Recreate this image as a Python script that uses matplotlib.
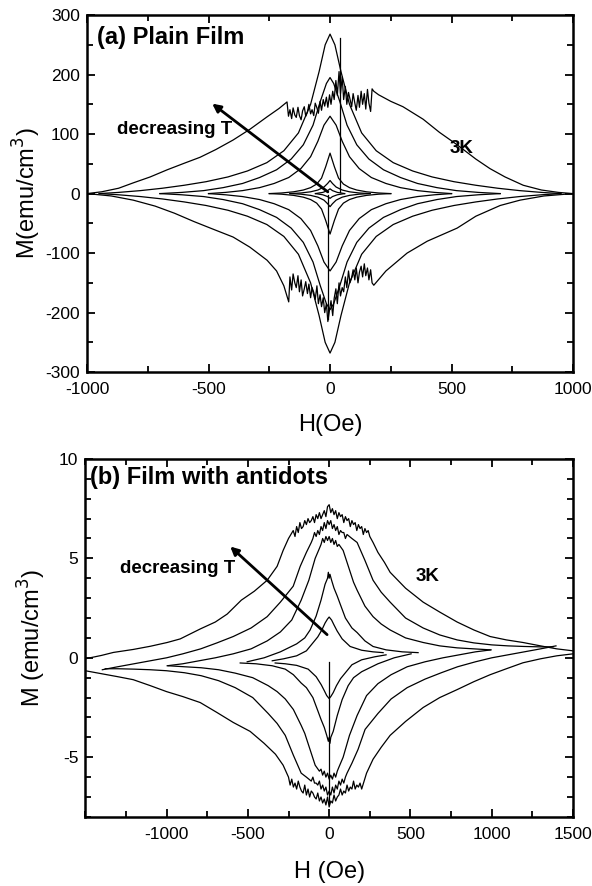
import numpy as np
import matplotlib
matplotlib.use('Agg')
import matplotlib.pyplot as plt
from matplotlib.ticker import MultipleLocator

plt.rcParams['font.family'] = ['Liberation Sans', 'DejaVu Sans']
plt.rcParams['axes.unicode_minus'] = False

# ---------------- (a) plain film, M in emu/cm^3 ----------------
# 3K loop, sweep down (upper branch), with flux-jump noise near zero field
a_3k_up_H = [-1000, -940, -870, -810, -740, -670, -600, -535, -470, -399, -330, -259, -210, -177,
             -171, -165, -158, -152, -145, -139, -132, -126, -119, -113, -106, -100, -93, -87, -80, -74,
             -67, -61, -54, -48, -41, -35, -28, -22, -15, -9, -2, 4, 11, 17, 24, 30, 37, 43, 50, 56,
             63, 69, 76, 82, 89, 95, 102, 108, 115, 121, 128, 134, 141, 147, 154, 160, 167, 173,
             180, 200, 250, 300, 383, 450, 523, 600, 658, 720, 795, 870, 940, 1000]
a_3k_up_M = [0, 3, 9, 18, 28, 40, 51, 61, 74, 90, 108, 129, 143, 154,
             130, 141, 126, 144, 132, 128, 145, 131, 124, 139, 146, 130, 137, 150, 134, 141,
             131, 152, 144, 135, 155, 140, 158, 147, 162, 145, 166, 150, 172, 158, 190, 165, 205, 168, 196, 158,
             180, 150, 170, 159, 146, 168, 152, 140, 165, 145, 172, 150, 168, 142, 175, 152, 138, 176,
             172, 166, 155, 146, 125, 103, 82, 58, 42, 28, 14, 6, 2, 0]
# 3K loop, sweep up (lower branch)
a_3k_lo_H = [-1000, -900, -810, -720, -640, -560, -480, -399, -330, -259, -220, -190, -170,
             -165, -158, -152, -145, -139, -132, -126, -119, -113, -106, -100, -93, -87, -80, -74,
             -67, -61, -54, -48, -41, -35, -28, -22, -15, -9, -2, 4, 11, 17, 24, 30, 37, 43, 50, 56,
             63, 69, 76, 82, 89, 95, 102, 108, 115, 121, 128, 134, 141, 147, 154, 160, 167, 173,
             180, 230, 317, 400, 523, 600, 700, 782, 880, 1000]
a_3k_lo_M = [0, -4, -11, -21, -33, -47, -60, -73, -90, -112, -130, -155, -182,
             -140, -162, -135, -150, -158, -138, -165, -145, -172, -160, -148, -168, -152, -175, -158,
             -166, -178, -155, -185, -170, -190, -175, -200, -185, -215, -195, -180, -205, -176, -160, -185, -150, -172, -158, -165,
             -140, -158, -130, -150, -141, -128, -145, -125, -150, -132, -122, -140, -118, -138, -125, -145, -128, -150,
             -154, -130, -100, -80, -58, -38, -20, -11, -4, 0]

# higher-temperature loops (sweep-down branch); the sweep-up branch is its point reflection
a_loop2_H = [-950, -870, -780, -690, -600, -510, -420, -340, -260, -190, -130, -80, -45, -20, 0,
             20, 45, 80, 130, 190, 260, 340, 420, 510, 600, 690, 780, 870, 950]
a_loop2_M = [0, 2, 5, 9, 14, 20, 28, 38, 52, 72, 102, 150, 205, 250, 268,
             250, 205, 150, 102, 72, 52, 38, 28, 20, 14, 9, 5, 2, 0]
a_loop3_H = [-700, -610, -520, -440, -360, -290, -220, -160, -110, -70, -40, -15, 0,
             15, 40, 70, 110, 160, 220, 290, 360, 440, 520, 610, 700]
a_loop3_M = [0, 2, 5, 10, 17, 27, 40, 58, 82, 115, 155, 185, 195,
             185, 155, 115, 82, 58, 40, 27, 17, 10, 5, 2, 0]
a_loop4_H = [-500, -430, -360, -290, -230, -170, -120, -80, -50, -25, 0,
             25, 50, 80, 120, 170, 230, 290, 360, 430, 500]
a_loop4_M = [0, 2, 5, 10, 17, 27, 42, 62, 88, 115, 130,
             115, 88, 62, 42, 27, 17, 10, 5, 2, 0]
a_loop5_H = [-250, -200, -150, -110, -80, -55, -35, -18, 0, 18, 35, 55, 80, 110, 150, 200, 250]
a_loop5_M = [0, 1, 3, 6, 10, 16, 26, 45, 68, 45, 26, 16, 10, 6, 3, 1, 0]
a_loop6_H = [-165, -120, -80, -50, -25, -10, 0, 10, 25, 50, 80, 120, 165]
a_loop6_M = [0, 1, 3, 6, 11, 17, 22, 17, 11, 6, 3, 1, 0]
a_loop7_H = [-60, -30, -10, 0, 10, 30, 60]
a_loop7_M = [0, 2, 5, 8, 5, 2, 0]
# flux jumps
a_jump_up_H = [40, 40]
a_jump_up_M = [3, 262]
a_jump_lo_H = [-10, -10]
a_jump_lo_M = [-3, -210]

# ---------------- (b) film with antidots ----------------
b_3k_up_H = [-1500, -1400, -1327, -1205, -1100, -996, -916, -793, -700, -627, -540, -460, -381, -320, -283, -250, -221,
             -210, -200, -190, -180, -170, -160, -150, -140, -130, -120, -110, -100, -90, -80, -70, -60,
             -50, -40, -30, -20, -10, 0, 10, 20, 30, 40, 50, 60, 70, 80, 90, 100, 110, 120, 130, 140,
             150, 160, 170, 180, 190, 200, 210, 220, 230, 240, 250,
             270, 300, 340, 375, 470, 578, 680, 787, 890, 990, 1090, 1192, 1300, 1400, 1500]
b_3k_up_M = [-0.05, 0.12, 0.27, 0.42, 0.58, 0.77, 0.95, 1.45, 1.8, 2.2, 2.9, 3.35, 3.9, 4.6, 5.4, 6.0, 6.4,
             6.1, 6.6, 6.3, 6.8, 6.5, 6.6, 6.9, 6.7, 7.0, 6.8, 6.9, 7.1, 6.8, 7.2, 7.0, 7.3,
             7.0, 7.2, 7.4, 7.1, 7.6, 7.7, 7.3, 7.5, 7.2, 7.4, 7.0, 7.3, 7.1, 7.2, 6.8, 7.1, 6.9, 7.0, 6.6, 6.9,
             6.7, 6.8, 6.4, 6.7, 6.5, 6.6, 6.2, 6.5, 6.3, 6.4, 6.1,
             5.8, 5.3, 4.8, 4.3, 3.5, 2.8, 2.3, 1.8, 1.4, 1.07, 0.9, 0.77, 0.6, 0.45, 0.35]
b_3k_lo_H = [-1500, -1400, -1300, -1205, -1100, -1000, -900, -793, -690, -590, -486, -400, -330, -283, -250,
             -240, -230, -220, -210, -200, -190, -180, -170, -160, -150, -140, -130, -120, -110, -100, -90,
             -80, -70, -60, -50, -40, -30, -20, -10, 0, 10, 20, 30, 40, 50, 60, 70, 80, 90, 100, 110,
             120, 130, 140, 150, 160, 170, 180, 190, 200,
             230, 270, 320, 375, 470, 578, 680, 787, 890, 990, 1090, 1192, 1300, 1400, 1500]
b_3k_lo_M = [-0.65, -0.8, -0.95, -1.1, -1.4, -1.7, -1.95, -2.25, -2.75, -3.25, -3.7, -4.3, -4.85, -5.4, -6.0,
             -6.4, -6.1, -6.5, -6.3, -6.6, -6.2, -6.5, -6.7, -6.8, -6.4, -6.9, -6.6, -7.0, -6.7, -6.8, -7.0,
             -7.1, -6.8, -7.2, -7.0, -7.3, -7.1, -7.4, -7.0, -7.5, -7.2, -7.3, -6.9, -7.2, -7.0, -6.9, -6.6, -6.9, -6.7, -6.8, -6.4,
             -6.7, -6.5, -6.6, -6.2, -6.6, -6.4, -6.5, -6.3, -6.6,
             -5.8, -5.1, -4.5, -3.9, -3.2, -2.5, -2.0, -1.6, -1.2, -0.85, -0.55, -0.25, -0.05, 0.1, 0.2]

b_loop2_H = [-1395, -1300, -1200, -1100, -1000, -900, -790, -690, -590, -480, -381, -300, -221, -178, -140, -110,
             -100, -90, -80, -70, -60, -50, -40, -30, -20, -10, 0, 10, 20, 30, 40, 50, 60, 70, 80, 90, 100, 110,
             140, 172, 220, 270, 320, 375, 470, 578, 680, 787, 890, 1000, 1100, 1200, 1300, 1377]
b_loop2_M = [-0.6, -0.45, -0.3, -0.15, 0.0, 0.2, 0.45, 0.75, 1.07, 1.5, 2.07, 2.8, 3.6, 4.6, 5.3, 5.8,
             6.0, 6.3, 6.1, 6.4, 6.2, 6.6, 6.4, 6.8, 6.5, 6.9, 6.7, 6.9, 6.5, 6.7, 6.4, 6.6, 6.2, 6.4, 6.3, 6.3, 6.0, 6.2,
             6.0, 5.8, 4.9, 3.9, 3.3, 2.8, 2.0, 1.5, 1.15, 0.9, 0.75, 0.65, 0.6, 0.57, 0.55, 0.55]
b_loop3_H = [-996, -900, -800, -700, -590, -480, -381, -300, -230, -172, -125, -86, -60,
             -50, -40, -30, -20, -10, 0, 10, 20, 30, 40, 50, 60,
             86, 110, 130, 150, 172, 220, 270, 320, 375, 470, 578, 680, 787, 890, 990]
b_loop3_M = [-0.4, -0.3, -0.15, 0.0, 0.2, 0.45, 0.85, 1.3, 1.9, 2.9, 3.9, 5.0, 5.5,
             5.7, 6.0, 5.8, 6.1, 5.9, 6.1, 5.8, 6.0, 5.7, 5.9, 5.6, 5.7,
             5.4, 4.8, 4.3, 3.8, 3.4, 2.6, 2.07, 1.7, 1.4, 1.0, 0.77, 0.6, 0.5, 0.45, 0.4]
b_loop4_H = [-504, -400, -300, -200, -150, -117, -80, -50, -25, -10, -5, 0, 5, 15, 30, 50, 68,
             100, 140, 172, 220, 270, 350, 450, 547]
b_loop4_M = [-0.2, 0.0, 0.3, 0.7, 1.0, 1.4, 2.1, 2.9, 3.7, 4.0, 4.3, 4.0, 4.2, 3.9, 3.5, 3.1, 2.7,
             2.0, 1.5, 1.27, 0.85, 0.57, 0.4, 0.3, 0.26]
b_loop5_H = [-350, -280, -200, -140, -98, -70, -45, -25, -10, 0, 15, 30, 49, 80, 129, 200, 270, 332]
b_loop5_M = [-0.15, -0.05, 0.1, 0.35, 0.77, 1.05, 1.4, 1.75, 1.95, 2.05, 1.9, 1.65, 1.35, 0.95, 0.57, 0.38, 0.3, 0.26]
b_jump_H = [0, 0]
b_jump_M = [-0.2, -7.3]

LW = 0.9


def loop(ax, H, M):
    H = np.asarray(H, float)
    M = np.asarray(M, float)
    ax.plot(H, M, color='k', lw=LW)
    ax.plot(-H, -M, color='k', lw=LW)


def style(ax):
    for sp in ax.spines.values():
        sp.set_linewidth(1.8)
    ax.tick_params(which='both', direction='in', top=True, right=True, width=1.3, labelsize=12.5)
    ax.tick_params(which='major', length=6)
    ax.tick_params(which='minor', length=4.5)
    ax.tick_params(axis='x', pad=7)
    ax.tick_params(axis='y', pad=5)


fig = plt.figure(figsize=(5.92, 8.86), dpi=100)
ax1 = fig.add_axes([0.147, 0.580, 0.821, 0.403])
ax2 = fig.add_axes([0.144, 0.078, 0.824, 0.404])

# panel (a)
ax1.plot(a_3k_up_H, a_3k_up_M, color='k', lw=LW)
ax1.plot(a_3k_lo_H, a_3k_lo_M, color='k', lw=LW)
for H, M in [(a_loop2_H, a_loop2_M), (a_loop3_H, a_loop3_M), (a_loop4_H, a_loop4_M),
             (a_loop5_H, a_loop5_M), (a_loop6_H, a_loop6_M), (a_loop7_H, a_loop7_M)]:
    loop(ax1, H, M)
ax1.plot(a_jump_up_H, a_jump_up_M, color='k', lw=LW)
ax1.plot(a_jump_lo_H, a_jump_lo_M, color='k', lw=LW)

ax1.set_xlim(-1000, 1000)
ax1.set_ylim(-300, 300)
ax1.xaxis.set_major_locator(MultipleLocator(500))
ax1.xaxis.set_minor_locator(MultipleLocator(250))
ax1.yaxis.set_major_locator(MultipleLocator(100))
ax1.yaxis.set_minor_locator(MultipleLocator(50))
style(ax1)
ax1.set_xlabel('H(Oe)', fontsize=17, labelpad=12)
ax1.set_ylabel('M(emu/cm$^3$)', fontsize=17, labelpad=2)
ax1.text(0.02, 0.936, '(a) Plain Film', transform=ax1.transAxes, fontsize=17,
         fontweight='bold', va='center', ha='left')
ax1.text(-877, 107, 'decreasing T', fontsize=13.5, fontweight='bold', va='center', ha='left')
ax1.text(494, 76, '3K', fontsize=13.5, fontweight='bold', va='center', ha='left')
ax1.annotate('', xy=(-494, 154), xytext=(0, 0),
             arrowprops=dict(arrowstyle='-|>', color='k', lw=2.0, mutation_scale=12))

# panel (b)
ax2.plot(b_3k_up_H, b_3k_up_M, color='k', lw=LW)
ax2.plot(b_3k_lo_H, b_3k_lo_M, color='k', lw=LW)
for H, M in [(b_loop2_H, b_loop2_M), (b_loop3_H, b_loop3_M),
             (b_loop4_H, b_loop4_M), (b_loop5_H, b_loop5_M)]:
    loop(ax2, H, M)
ax2.plot(b_jump_H, b_jump_M, color='k', lw=LW)

ax2.set_xlim(-1500, 1500)
ax2.set_ylim(-8, 10)
ax2.set_xticks([-1000, -500, 0, 500, 1000, 1500])
ax2.xaxis.set_minor_locator(MultipleLocator(250))
ax2.yaxis.set_major_locator(MultipleLocator(5))
ax2.yaxis.set_minor_locator(MultipleLocator(1))
style(ax2)
ax2.set_xlabel('H (Oe)', fontsize=17, labelpad=14)
ax2.set_ylabel('M (emu/cm$^3$)', fontsize=17, labelpad=8)
ax2.text(0.01, 0.947, '(b) Film with antidots', transform=ax2.transAxes, fontsize=17,
         fontweight='bold', va='center', ha='left')
ax2.text(-1285, 4.5, 'decreasing T', fontsize=13.5, fontweight='bold', va='center', ha='left')
ax2.text(529, 4.1, '3K', fontsize=13.5, fontweight='bold', va='center', ha='left')
ax2.annotate('', xy=(-621, 5.69), xytext=(0, 1.07),
             arrowprops=dict(arrowstyle='-|>', color='k', lw=2.0, mutation_scale=12))

fig.savefig('out.png', dpi=100)
